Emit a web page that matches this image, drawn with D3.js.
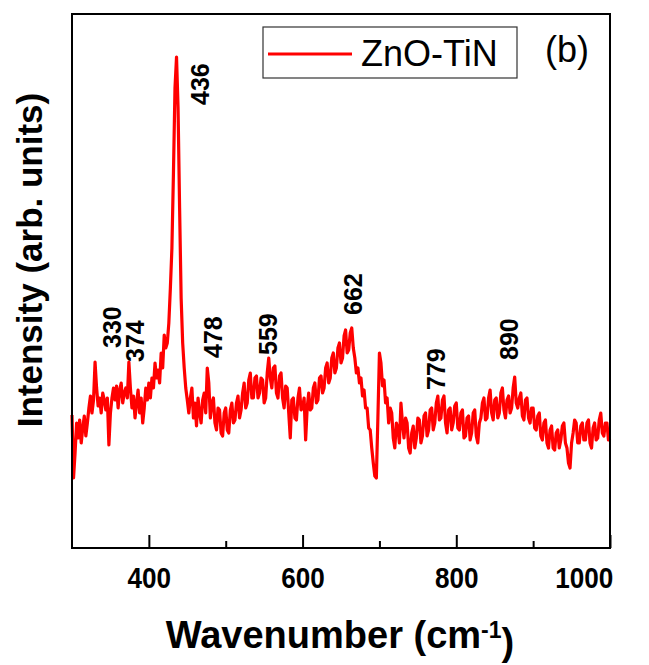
<!DOCTYPE html>
<html lang="en">
<head>
  <meta charset="UTF-8">
  <title>Raman spectrum ZnO-TiN</title>
  <script src="https://d3js.org/d3.v7.min.js"></script>
  <style>
    body { margin: 0; background: #fff; }
    svg { display: block; font-family: "Liberation Sans", Arial, sans-serif; }
  </style>
</head>
<body>
  <div id="chart"></div>

  <script>
    // Raman shift (cm-1) and intensity (arb. units)
    const wavenumber = [
      300, 302, 304, 306, 308, 310, 312, 314, 316, 318, 320, 322, 324, 326, 328, 330, 332, 334, 336, 338, 340, 342, 344, 346, 348,
      350, 352, 354, 356, 358, 360, 362, 364, 366, 368, 370, 372, 374, 376, 378, 380, 382, 384, 386, 388, 390, 392, 394, 396, 398,
      400, 402, 404, 406, 408, 410, 412, 414, 416, 418, 420, 422, 424, 426, 428, 430, 432, 434, 436, 438, 440, 442, 444, 446, 448,
      450, 452, 454, 456, 458, 460, 462, 464, 466, 468, 470, 472, 474, 476, 478, 480, 482, 484, 486, 488, 490, 492, 494, 496, 498,
      500, 502, 504, 506, 508, 510, 512, 514, 516, 518, 520, 522, 524, 526, 528, 530, 532, 534, 536, 538, 540, 542, 544, 546, 548,
      550, 552, 554, 556, 558, 560, 562, 564, 566, 568, 570, 572, 574, 576, 578, 580, 582, 584, 586, 588, 590, 592, 594, 596, 598,
      600, 602, 604, 606, 608, 610, 612, 614, 616, 618, 620, 622, 624, 626, 628, 630, 632, 634, 636, 638, 640, 642, 644, 646, 648,
      650, 652, 654, 656, 658, 660, 662, 664, 666, 668, 670, 672, 674, 676, 678, 680, 682, 684, 686, 688, 690, 692, 694, 696, 698,
      700, 702, 704, 706, 708, 710, 712, 714, 716, 718, 720, 722, 724, 726, 728, 730, 732, 734, 736, 738, 740, 742, 744, 746, 748,
      750, 752, 754, 756, 758, 760, 762, 764, 766, 768, 770, 772, 774, 776, 778, 780, 782, 784, 786, 788, 790, 792, 794, 796, 798,
      800, 802, 804, 806, 808, 810, 812, 814, 816, 818, 820, 822, 824, 826, 828, 830, 832, 834, 836, 838, 840, 842, 844, 846, 848,
      850, 852, 854, 856, 858, 860, 862, 864, 866, 868, 870, 872, 874, 876, 878, 880, 882, 884, 886, 888, 890, 892, 894, 896, 898,
      900, 902, 904, 906, 908, 910, 912, 914, 916, 918, 920, 922, 924, 926, 928, 930, 932, 934, 936, 938, 940, 942, 944, 946, 948,
      950, 952, 954, 956, 958, 960, 962, 964, 966, 968, 970, 972, 974, 976, 978, 980, 982, 984, 986, 988, 990, 992, 994, 996, 998,
      1000
    ];
    const intensity = [
      133, 70, 95, 125, 110, 128, 105, 120, 132, 112, 125, 140, 152, 135, 148, 186, 160, 142, 150, 135, 155, 148, 138, 150, 103,
      135, 150, 160, 148, 162, 140, 158, 165, 145, 155, 160, 150, 186, 160, 140, 152, 130, 145, 158, 135, 150, 125, 140, 160, 148,
      165, 150, 170, 160, 185, 170, 178, 165, 195, 180, 213, 200, 205, 225, 260, 300, 375, 460, 491, 440, 340, 250, 205, 180, 160,
      148, 135, 150, 160, 130, 145, 122, 150, 135, 125, 148, 155, 135, 180, 165, 130, 145, 150, 125, 118, 140, 138, 115, 112, 135,
      140, 118, 115, 138, 145, 125, 128, 145, 152, 130, 138, 155, 165, 140, 145, 168, 175, 150, 150, 170, 172, 150, 155, 170, 168,
      145, 150, 175, 190, 170, 160, 180, 182, 155, 150, 172, 175, 150, 140, 162, 160, 135, 110, 148, 150, 130, 128, 150, 160, 138,
      140, 150, 108, 140, 155, 138, 140, 160, 165, 145, 148, 170, 172, 155, 160, 180, 185, 165, 170, 190, 195, 175, 180, 200, 205,
      185, 190, 212, 218, 195, 198, 215, 220, 200, 190, 175, 180, 165, 170, 152, 158, 140, 140, 120, 118, 100, 85, 72, 70, 130,
      195, 185, 162, 168, 145, 150, 125, 140, 135, 110, 100, 125, 120, 105, 145, 125, 110, 130, 125, 100, 95, 115, 122, 100, 110,
      130, 128, 105, 112, 132, 135, 112, 118, 138, 140, 118, 125, 145, 152, 128, 130, 148, 152, 125, 115, 138, 140, 118, 125, 142,
      145, 120, 118, 135, 138, 110, 112, 130, 132, 108, 115, 135, 138, 112, 105, 125, 130, 145, 150, 128, 130, 150, 158, 135, 128,
      148, 150, 130, 135, 155, 160, 138, 130, 148, 152, 135, 140, 160, 171, 145, 140, 150, 155, 132, 128, 148, 150, 130, 125, 140,
      140, 120, 118, 132, 135, 112, 108, 125, 128, 105, 100, 118, 122, 100, 98, 115, 118, 100, 108, 122, 125, 105, 100, 85, 80,
      105, 115, 128, 125, 105, 105, 122, 125, 108, 108, 125, 128, 105, 100, 120, 125, 108, 110, 128, 135, 115, 112, 125, 125, 108,
      110
    ];

    // peak annotations: label, where the label sits (cm-1) and the intensity at its lower end
    const peakLabels = ["330", "374", "436", "478", "559", "662", "779", "890"];
    const labelAt = [352, 382, 467, 484, 555, 665, 774, 869];
    const labelBase = [200, 186, 443, 190, 193, 233, 158, 188];

    const xTicks = [400, 600, 800, 1000];
    const xMinorTicks = [500, 700, 900];

    const W = 649, H = 665;
    const margin = { top: 14, right: 39, bottom: 117, left: 72 };

    const svg = d3.select("#chart").append("svg")
      .attr("width", W)
      .attr("height", H);

    const x = d3.scaleLinear().domain([300, 1000]).range([margin.left, W - margin.right]);
    const y = d3.scaleLinear().domain([0, 534]).range([H - margin.bottom, margin.top]);

    const data = wavenumber.map((w, i) => ({ w: w, v: intensity[i] }));

    // spectrum
    svg.append("path")
      .datum(data)
      .attr("fill", "none")
      .attr("stroke", "#ff0000")
      .attr("stroke-width", 3.2)
      .attr("stroke-linejoin", "round")
      .attr("d", d3.line().x(d => x(d.w)).y(d => y(d.v)));

    // bottom axis, ticks pointing inward
    const xAxis = svg.append("g")
      .attr("transform", `translate(0,${H - margin.bottom})`)
      .call(d3.axisBottom(x).tickValues(xTicks).tickSize(-13).tickPadding(19).tickFormat(d3.format("d")));
    xAxis.select(".domain").remove();
    xAxis.selectAll(".tick line").attr("stroke", "#000").attr("stroke-width", 2);
    xAxis.selectAll(".tick text")
      .attr("fill", "#000")
      .attr("transform", "scale(0.9,1)")
      .style("font-size", "29px")
      .style("font-weight", "bold");
    // last label is pulled inside the right edge, as in the original
    xAxis.selectAll(".tick text").filter(d => d === 1000)
      .attr("text-anchor", "end")
      .attr("x", 3);

    svg.append("g")
      .attr("transform", `translate(0,${H - margin.bottom})`)
      .call(d3.axisBottom(x).tickValues(xMinorTicks).tickSize(-7).tickFormat(""))
      .call(g => g.select(".domain").remove())
      .selectAll(".tick line").attr("stroke", "#000").attr("stroke-width", 2);

    // frame
    svg.append("rect")
      .attr("x", margin.left)
      .attr("y", margin.top)
      .attr("width", W - margin.left - margin.right)
      .attr("height", H - margin.top - margin.bottom)
      .attr("fill", "none")
      .attr("stroke", "#000")
      .attr("stroke-width", 2);

    // peak labels
    svg.selectAll(".peak")
      .data(peakLabels)
      .enter()
      .append("text")
      .attr("class", "peak")
      .attr("transform", (d, i) => `translate(${x(labelAt[i])},${y(labelBase[i])}) rotate(-90)`)
      .attr("dy", "0.36em")
      .style("font-size", "25px")
      .style("font-weight", "bold")
      .text(d => d);

    // legend
    const legend = svg.append("g");
    legend.append("rect")
      .attr("x", 263).attr("y", 27)
      .attr("width", 254).attr("height", 51)
      .attr("fill", "#fff")
      .attr("stroke", "#333")
      .attr("stroke-width", 1.2);
    legend.append("line")
      .attr("x1", 268).attr("x2", 352)
      .attr("y1", 54).attr("y2", 54)
      .attr("stroke", "#ff0000")
      .attr("stroke-width", 3);
    legend.append("text")
      .attr("x", 361).attr("y", 66)
      .style("font-size", "36px")
      .text("ZnO-TiN");

    svg.append("text")
      .attr("x", 545).attr("y", 62)
      .style("font-size", "36px")
      .text("(b)");

    // axis titles
    const xTitle = svg.append("text")
      .attr("x", (margin.left + W - margin.right) / 2 - 1)
      .attr("y", 648)
      .attr("text-anchor", "middle")
      .style("font-size", "38px")
      .style("font-weight", "bold");
    xTitle.append("tspan").text("Wavenumber (cm");
    xTitle.append("tspan").attr("dy", "-0.45em").style("font-size", "23px").text("-1");
    xTitle.append("tspan").attr("dy", "0.45em").text(")");

    svg.append("text")
      .attr("transform", `translate(42,${(margin.top + H - margin.bottom) / 2 - 21}) rotate(-90)`)
      .attr("text-anchor", "middle")
      .style("font-size", "35px")
      .style("font-weight", "bold")
      .text("Intensity (arb. units)");
  </script>
</body>
</html>
